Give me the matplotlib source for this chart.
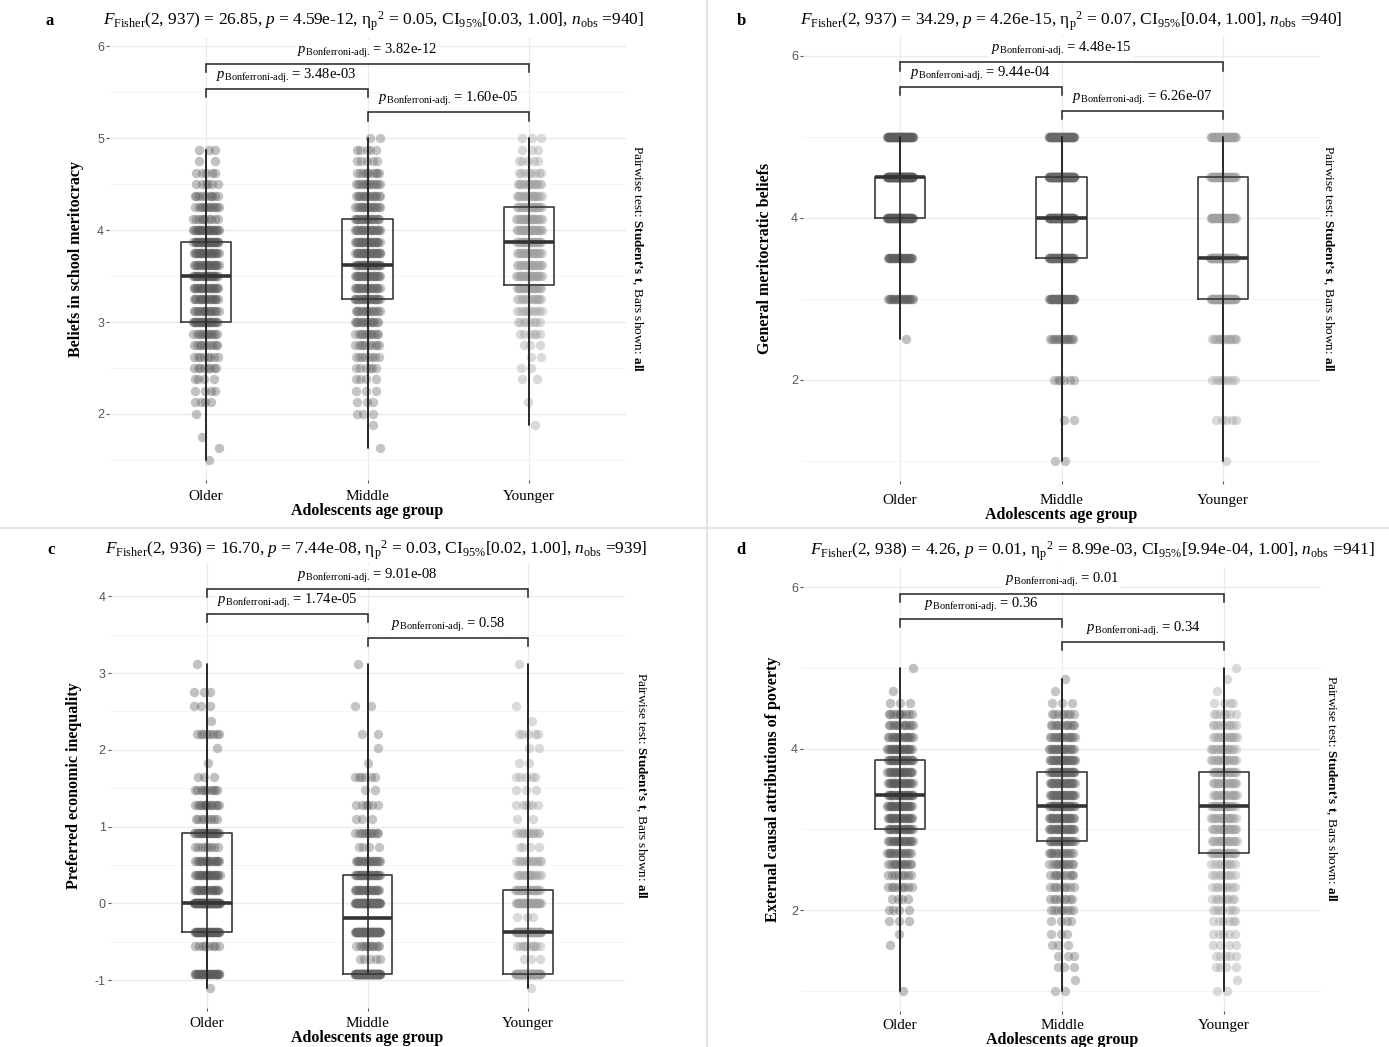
import numpy as np
import matplotlib
matplotlib.use("Agg")
import matplotlib.pyplot as plt
from matplotlib.lines import Line2D
from matplotlib.ticker import MultipleLocator, AutoMinorLocator, FuncFormatter

plt.rcParams["font.family"] = ["Liberation Serif", "DejaVu Serif"]
plt.rcParams["mathtext.fontset"] = "custom"
plt.rcParams["mathtext.rm"] = "Liberation Serif"
plt.rcParams["mathtext.it"] = "Liberation Serif:italic"
plt.rcParams["mathtext.bf"] = "Liberation Serif:bold"
plt.rcParams["axes.unicode_minus"] = False

# ---------------- data (value levels and counts per age group) ----------------
groups = ["Older", "Middle", "Younger"]

a_levels = [1.5, 1.625, 1.75, 1.875, 2.0, 2.125, 2.25, 2.375, 2.5, 2.625, 2.75, 2.875,
            3.0, 3.125, 3.25, 3.375, 3.5, 3.625, 3.75, 3.875, 4.0, 4.125, 4.25, 4.375,
            4.5, 4.625, 4.75, 4.875, 5.0]
a_older = [1, 1, 1, 0, 1, 4, 4, 4, 8, 8, 10, 12, 24, 16, 18, 20, 24, 20, 22, 30, 24, 10, 12, 10, 6, 5, 2, 3, 0]
a_middle = [0, 1, 0, 1, 3, 3, 3, 4, 6, 8, 10, 12, 16, 15, 24, 22, 26, 28, 28, 28, 22, 20, 18, 16, 14, 10, 5, 5, 2]
a_younger = [0, 0, 0, 1, 0, 1, 0, 2, 2, 2, 3, 6, 8, 10, 14, 24, 26, 20, 22, 24, 26, 24, 22, 18, 16, 8, 5, 3, 3]

b_levels = [1.0, 1.5, 2.0, 2.5, 3.0, 3.5, 4.0, 4.5, 5.0]
b_older = [0, 0, 0, 1, 20, 30, 70, 110, 69]
b_middle = [2, 2, 6, 14, 40, 50, 80, 90, 66]
b_younger = [1, 5, 8, 16, 50, 70, 50, 45, 45]

c_levels = [-1.10, -0.92, -0.73, -0.55, -0.37, -0.18, 0.0, 0.18, 0.37, 0.55, 0.73, 0.92,
            1.10, 1.28, 1.47, 1.65, 1.83, 2.02, 2.20, 2.38, 2.57, 2.75, 2.93, 3.12]
c_older = [1, 30, 0, 8, 40, 0, 75, 20, 22, 18, 8, 25, 8, 14, 10, 3, 1, 1, 8, 1, 3, 3, 0, 1]
c_middle = [0, 90, 5, 12, 68, 0, 60, 25, 30, 20, 4, 12, 3, 6, 2, 6, 1, 1, 2, 0, 2, 0, 0, 1]
c_younger = [1, 80, 3, 10, 60, 3, 35, 25, 14, 14, 4, 12, 2, 6, 3, 5, 2, 2, 5, 1, 1, 0, 0, 1]

d_levels = [1.0, 1.14, 1.29, 1.43, 1.57, 1.71, 1.86, 2.0, 2.14, 2.29, 2.43, 2.57, 2.71, 2.86,
            3.0, 3.14, 3.29, 3.43, 3.57, 3.71, 3.86, 4.0, 4.14, 4.29, 4.43, 4.57, 4.71, 4.86, 5.0]
d_older = [1, 0, 0, 0, 1, 1, 3, 4, 4, 8, 8, 12, 14, 18, 22, 22, 24, 25, 22, 22, 24, 22, 16, 12, 10, 3, 1, 0, 1]
d_middle = [2, 1, 3, 3, 3, 3, 4, 8, 8, 8, 10, 12, 14, 24, 24, 26, 28, 26, 26, 30, 26, 20, 16, 12, 8, 3, 1, 1, 0]
d_younger = [2, 1, 4, 5, 4, 5, 6, 7, 8, 8, 8, 9, 20, 18, 20, 18, 20, 18, 18, 20, 18, 16, 14, 10, 7, 4, 1, 1, 1]

titles = {
    "a": r"$F_{\rm Fisher}$(2, 937) = 26.85, $p$ = 4.59e-12, η$_{\rm p}$$^{2}$ = 0.05, CI$_{95\%}$[0.03, 1.00], $n_{\rm obs}$ =940]",
    "b": r"$F_{\rm Fisher}$(2, 937) = 34.29, $p$ = 4.26e-15, η$_{\rm p}$$^{2}$ = 0.07, CI$_{95\%}$[0.04, 1.00], $n_{\rm obs}$ =940]",
    "c": r"$F_{\rm Fisher}$(2, 936) = 16.70, $p$ = 7.44e-08, η$_{\rm p}$$^{2}$ = 0.03, CI$_{95\%}$[0.02, 1.00], $n_{\rm obs}$ =939]",
    "d": r"$F_{\rm Fisher}$(2, 938) = 4.26, $p$ = 0.01, η$_{\rm p}$$^{2}$ = 8.99e-03, CI$_{95\%}$[9.94e-04, 1.00], $n_{\rm obs}$ =941]",
}
ylabels = {
    "a": "Beliefs in school meritocracy",
    "b": "General meritocratic beliefs",
    "c": "Preferred economic inequality",
    "d": "External causal attributions of poverty",
}
# pairwise p-values: (Older-Younger, Older-Middle, Middle-Younger)
pvals = {
    "a": ["3.82e-12", "3.48e-03", "1.60e-05"],
    "b": ["4.48e-15", "9.44e-04", "6.26e-07"],
    "c": ["9.01e-08", "1.74e-05", "0.58"],
    "d": ["0.01", "0.36", "0.34"],
}

# ---------------- layout (pixels) ----------------
W, H = 1389, 1047
layout = {
    "a": dict(box=(109, 37.7, 626, 480), title=(374, 21), letter=(50, 21), ylab=84, side=637,
              major=1, xpad=5.0),
    "b": dict(box=(803, 35.75, 1320, 481), title=(1071, 21), letter=(741, 21), ylab=773, side=1328,
              major=2, xpad=7.0),
    "c": dict(box=(110.5, 562.6, 624.5, 1008), title=(376, 550), letter=(51, 550), ylab=82, side=641,
              major=1, xpad=3.8),
    "d": dict(box=(803, 567, 1321, 1011), title=(1092, 551), letter=(741, 550), ylab=781, side=1331,
              major=2, xpad=3.0),
}
panel_data = {
    "a": (a_levels, [a_older, a_middle, a_younger]),
    "b": (b_levels, [b_older, b_middle, b_younger]),
    "c": (c_levels, [c_older, c_middle, c_younger]),
    "d": (d_levels, [d_older, d_middle, d_younger]),
}
point_colors = ["#5c5c5c", "#686868", "#a0a0a0"]
GOLD = 0.6180339887
JIT = 0.08

fig = plt.figure(figsize=(W / 100, H / 100), dpi=100)
fig.patch.set_facecolor("white")

for key in ["a", "b", "c", "d"]:
    lay = layout[key]
    L, T, R, B = lay["box"]
    ax = fig.add_axes([L / W, 1 - B / H, (R - L) / W, (B - T) / H])
    levels, counts = panel_data[key]
    data = [np.repeat(np.array(levels), np.array(c)) for c in counts]
    allv = np.concatenate(data)
    mn, mx = allv.min(), allv.max()
    rng = mx - mn
    ax.set_xlim(0.4, 3.6)
    ax.set_ylim(mn - 0.0625 * rng, mx + 0.3125 * rng)

    # jittered points
    for gi, cnts in enumerate(counts):
        xs, ys = [], []
        for li, (lv, c) in enumerate(zip(levels, cnts)):
            for i in range(c):
                frac = ((i + 1) * GOLD + 0.37 * li) % 1.0
                xs.append(gi + 1 + (2 * frac - 1) * JIT)
                ys.append(lv)
        ax.scatter(xs, ys, s=46, color=point_colors[gi], alpha=0.38, linewidths=0, zorder=2)

    # full-range bars and boxes
    ax.vlines([1, 2, 3], [d.min() for d in data], [d.max() for d in data],
              color="#222222", lw=1.1, zorder=3)
    ax.boxplot(data, positions=[1, 2, 3], widths=0.31, whis=(0, 100), showcaps=False,
               showfliers=False, manage_ticks=False, zorder=4,
               boxprops=dict(color="#3a3a3a", lw=1.2),
               whiskerprops=dict(color="#222222", lw=1.1),
               medianprops=dict(color="#333333", lw=2.6, solid_capstyle="butt"))

    # pairwise brackets
    pairs = [(1, 3, 0.23), (1, 2, 0.153), (2, 3, 0.08)]
    for (x1, x2, f), pv in zip(pairs, pvals[key]):
        y = mx + f * rng
        dy = 0.025 * rng
        ax.plot([x1, x1, x2, x2], [y - dy, y, y, y - dy], color="#222222", lw=1.1, zorder=7,
                solid_joinstyle="miter")
        ax.text((x1 + x2) / 2, y + 0.041 * rng, r"$p_{\text{Bonferroni-adj.}}$ = " + pv,
                ha="center", va="center", fontsize=10.5, zorder=6,
                bbox=dict(facecolor="white", edgecolor="none", pad=1.5))

    # axes styling
    for s in ax.spines.values():
        s.set_visible(False)
    ax.set_xticks([1, 2, 3])
    ax.set_xticklabels(groups, fontsize=11)
    ax.yaxis.set_major_locator(MultipleLocator(lay["major"]))
    ax.yaxis.set_minor_locator(AutoMinorLocator(2))
    ax.yaxis.set_major_formatter(FuncFormatter(lambda v, p: "%d" % round(v)))
    ax.tick_params(axis="y", which="major", length=2.5, width=0.8, color="#555555", pad=1,
                   labelsize=9, labelcolor="#555555", labelfontfamily="Liberation Sans")
    ax.tick_params(axis="y", which="minor", length=0)
    ax.tick_params(axis="x", which="major", length=2.5, width=0.8, color="#555555", pad=lay["xpad"])
    ax.grid(True, which="major", color="#ebebeb", lw=1.0, zorder=0)
    ax.grid(True, which="minor", axis="y", color="#f2f2f2", lw=0.6, zorder=0)
    ax.set_axisbelow(True)
    ax.set_xlabel("Adolescents age group", fontsize=11.5, fontweight="bold", labelpad=0)
    ax.set_ylabel(ylabels[key], fontsize=11.5, fontweight="bold")
    ax.yaxis.set_label_coords((lay["ylab"] - L) / (R - L), 0.5)

    # side caption
    ax.text((lay["side"] - L) / (R - L), 0.5,
            r"Pairwise test: $\mathbf{Student’s\ t}$, Bars shown: $\mathbf{all}$",
            transform=ax.transAxes, rotation=270, ha="center", va="center", fontsize=9.5)

    # title and panel letter
    fig.text(lay["title"][0] / W, 1 - lay["title"][1] / H, titles[key], ha="center", va="center",
             fontsize=12.5)
    fig.text(lay["letter"][0] / W, 1 - lay["letter"][1] / H, key, ha="center", va="center",
             fontsize=12, fontweight="bold")

# separators between panels
fig.add_artist(Line2D([706.5 / W, 706.5 / W], [0, 1], color="#e4e4e4", lw=1.6))
fig.add_artist(Line2D([0, 1], [1 - 528 / H, 1 - 528 / H], color="#e4e4e4", lw=1.6))

fig.savefig("out.png", dpi=100, facecolor="white")
